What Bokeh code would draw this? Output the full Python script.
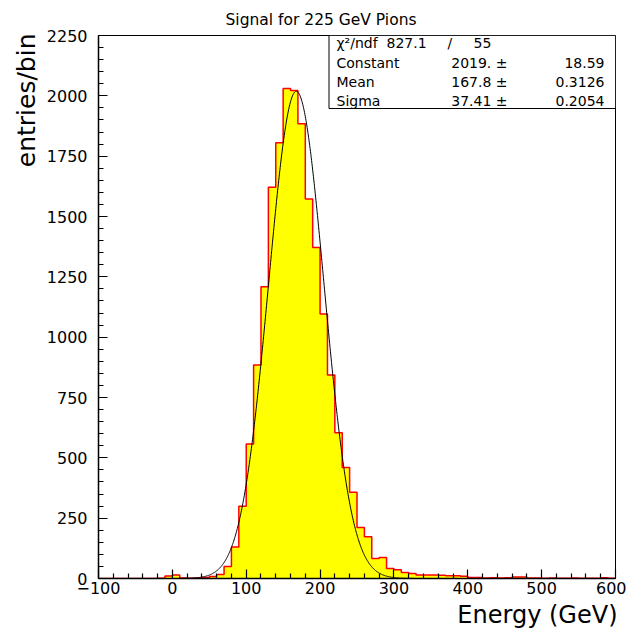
import numpy as np
from bokeh.plotting import figure
from bokeh.models import Range1d, FixedTicker, Label, BoxAnnotation, Title
from bokeh.embed import file_html
from bokeh.resources import INLINE

# ---------------- data ----------------
bin_low = -100.0
bin_width = 10.0
# entries per 10 GeV bin, from -100 to 600 GeV (70 bins)
counts = [
    0, 0, 0, 0, 0, 0, 0, 0, 1, 10,            # -100 .. 0
    15, 2, 1, 2, 4, 8, 17, 50, 131, 299,      # 0 .. 100
    557, 885, 1209, 1621, 1806, 2030, 2022, 1884, 1573, 1372,   # 100 .. 200
    1096, 843, 604, 460, 357, 211, 173, 83, 87, 41,             # 200 .. 300
    36, 25, 21, 14, 14, 15, 13, 11, 11, 9,    # 300 .. 400
    4, 4, 2, 3, 2, 3, 6, 6, 2, 2,             # 400 .. 500
    1, 2, 1, 1, 2, 1, 1, 1, 3, 1,             # 500 .. 600
]
fit_constant = 2019.0
fit_constant_err = 18.59
fit_mean = 167.8
fit_mean_err = 0.3126
fit_sigma = 37.41
fit_sigma_err = 0.2054
chi2 = 827.1
ndf = 55

x_ticks = [-100, 0, 100, 200, 300, 400, 500, 600]
x_minor = [v for v in range(-100, 601, 20) if v not in x_ticks]
y_ticks = [0, 250, 500, 750, 1000, 1250, 1500, 1750, 2000, 2250]
y_minor = [v for v in range(0, 2251, 50) if v not in y_ticks]

title_text = "Signal for 225 GeV Pions"
x_title = "Energy (GeV)"
y_title = "entries/bin"

# ---------------- figure ----------------
W, H = 626, 631
BL, BR, BT, BB = 98, 11, 35, 53
XMIN, XMAX, YMIN, YMAX = -100.0, 600.0, 0.0, 2250.0
FONT = "DejaVu Sans"

p = figure(width=W, height=H, output_backend="svg", toolbar_location=None,
           x_range=Range1d(XMIN, XMAX), y_range=Range1d(YMIN, YMAX),
           min_border_left=BL, min_border_right=BR, min_border_top=BT,
           min_border_bottom=BB, background_fill_color="white",
           border_fill_color="white")
p.grid.visible = False
p.outline_line_color = "black"
p.outline_line_width = 1

fw = W - BL - BR
fh = H - BT - BB


def dx(px):
    return XMIN + (px - BL) * (XMAX - XMIN) / fw


def dy(py):
    return YMIN + (BT + fh - py) * (YMAX - YMIN) / fh


# histogram (fill + red outline)
counts_a = np.array(counts, dtype=float)
edges = bin_low + bin_width * np.arange(len(counts) + 1)
ox = [edges[0]]
oy = [0.0]
for i, c in enumerate(counts_a):
    ox += [edges[i], edges[i + 1]]
    oy += [c, c]
ox.append(edges[-1])
oy.append(0.0)
p.patch(ox, oy, fill_color="#ffff00", line_color=None)
p.line(ox, oy, line_color="#ff0000", line_width=1.5)

# gaussian fit curve from fit parameters
fx = np.linspace(XMIN, XMAX, 1401)
fy = fit_constant * np.exp(-0.5 * ((fx - fit_mean) / fit_sigma) ** 2)
p.line(fx, fy, line_color="black", line_width=1)

# axes
for ax in (p.xaxis[0], p.yaxis[0]):
    ax.major_tick_in = 9
    ax.major_tick_out = 0
    ax.minor_tick_in = 5
    ax.minor_tick_out = 0
    ax.axis_line_width = 1.5
    ax.major_tick_line_width = 1.2
    ax.minor_tick_line_width = 1.2
    ax.major_label_text_font = FONT
    ax.major_label_text_font_size = "16px"
    ax.major_label_text_color = "black"
    ax.axis_line_color = "black"
    ax.major_tick_line_color = "black"
    ax.minor_tick_line_color = "black"

p.xaxis.ticker = FixedTicker(ticks=x_ticks, minor_ticks=x_minor)
p.yaxis.ticker = FixedTicker(ticks=y_ticks, minor_ticks=y_minor)
p.xaxis.major_label_overrides = {t: (str(t).replace("-", "\u2212")) for t in x_ticks}
p.xaxis.major_label_standoff = 3
p.yaxis.major_label_standoff = 11

# titles
p.title.text = title_text
p.title.align = "left"
p.title.offset = 127
p.title.text_font = FONT
p.title.text_font_size = "15.5px"
p.title.text_font_style = "normal"
p.title.text_color = "black"
p.title.standoff = 14

p.add_layout(Title(text=x_title, align="right", offset=-2, text_font=FONT,
                   text_font_size="24px", text_font_style="normal",
                   text_color="black", standoff=4), "below")
p.add_layout(Title(text=y_title, align="right", offset=-2, text_font=FONT,
                   text_font_size="25px", text_font_style="normal",
                   text_color="black", standoff=5), "left")

# stats box
p.add_layout(BoxAnnotation(left=dx(328.5), right=XMAX, bottom=dy(108), top=YMAX,
                           fill_color="white", fill_alpha=1.0,
                           line_color="black", line_width=1, line_alpha=1.0))

rows_y = [42, 62, 81, 100]
stat_rows = [
    ("\u03c7\u00b2/ndf", None, None),
    ("Constant", f"{fit_constant:.0f}. \u00b1", f"{fit_constant_err:.2f}"),
    ("Mean", f"{fit_mean:.1f} \u00b1", f"{fit_mean_err:.4f}"),
    ("Sigma", f"{fit_sigma:.2f} \u00b1", f"{fit_sigma_err:.4f}"),
]


def stat_label(px, py, text, align):
    p.add_layout(Label(x=dx(px), y=dy(py), text=text, text_align=align,
                       text_baseline="middle", text_font=FONT,
                       text_font_size="14px", text_color="black"))


for (name, val, err), ry in zip(stat_rows, rows_y):
    stat_label(336, ry, name, "left")
    if val is not None:
        stat_label(507, ry, val, "right")
        stat_label(604, ry, err, "right")

stat_label(386, rows_y[0], f"{chi2:.1f}", "left")
stat_label(447, rows_y[0], "/", "left")
stat_label(473, rows_y[0], f"{ndf}", "left")

open("out.html", "w").write(file_html(p, INLINE))
